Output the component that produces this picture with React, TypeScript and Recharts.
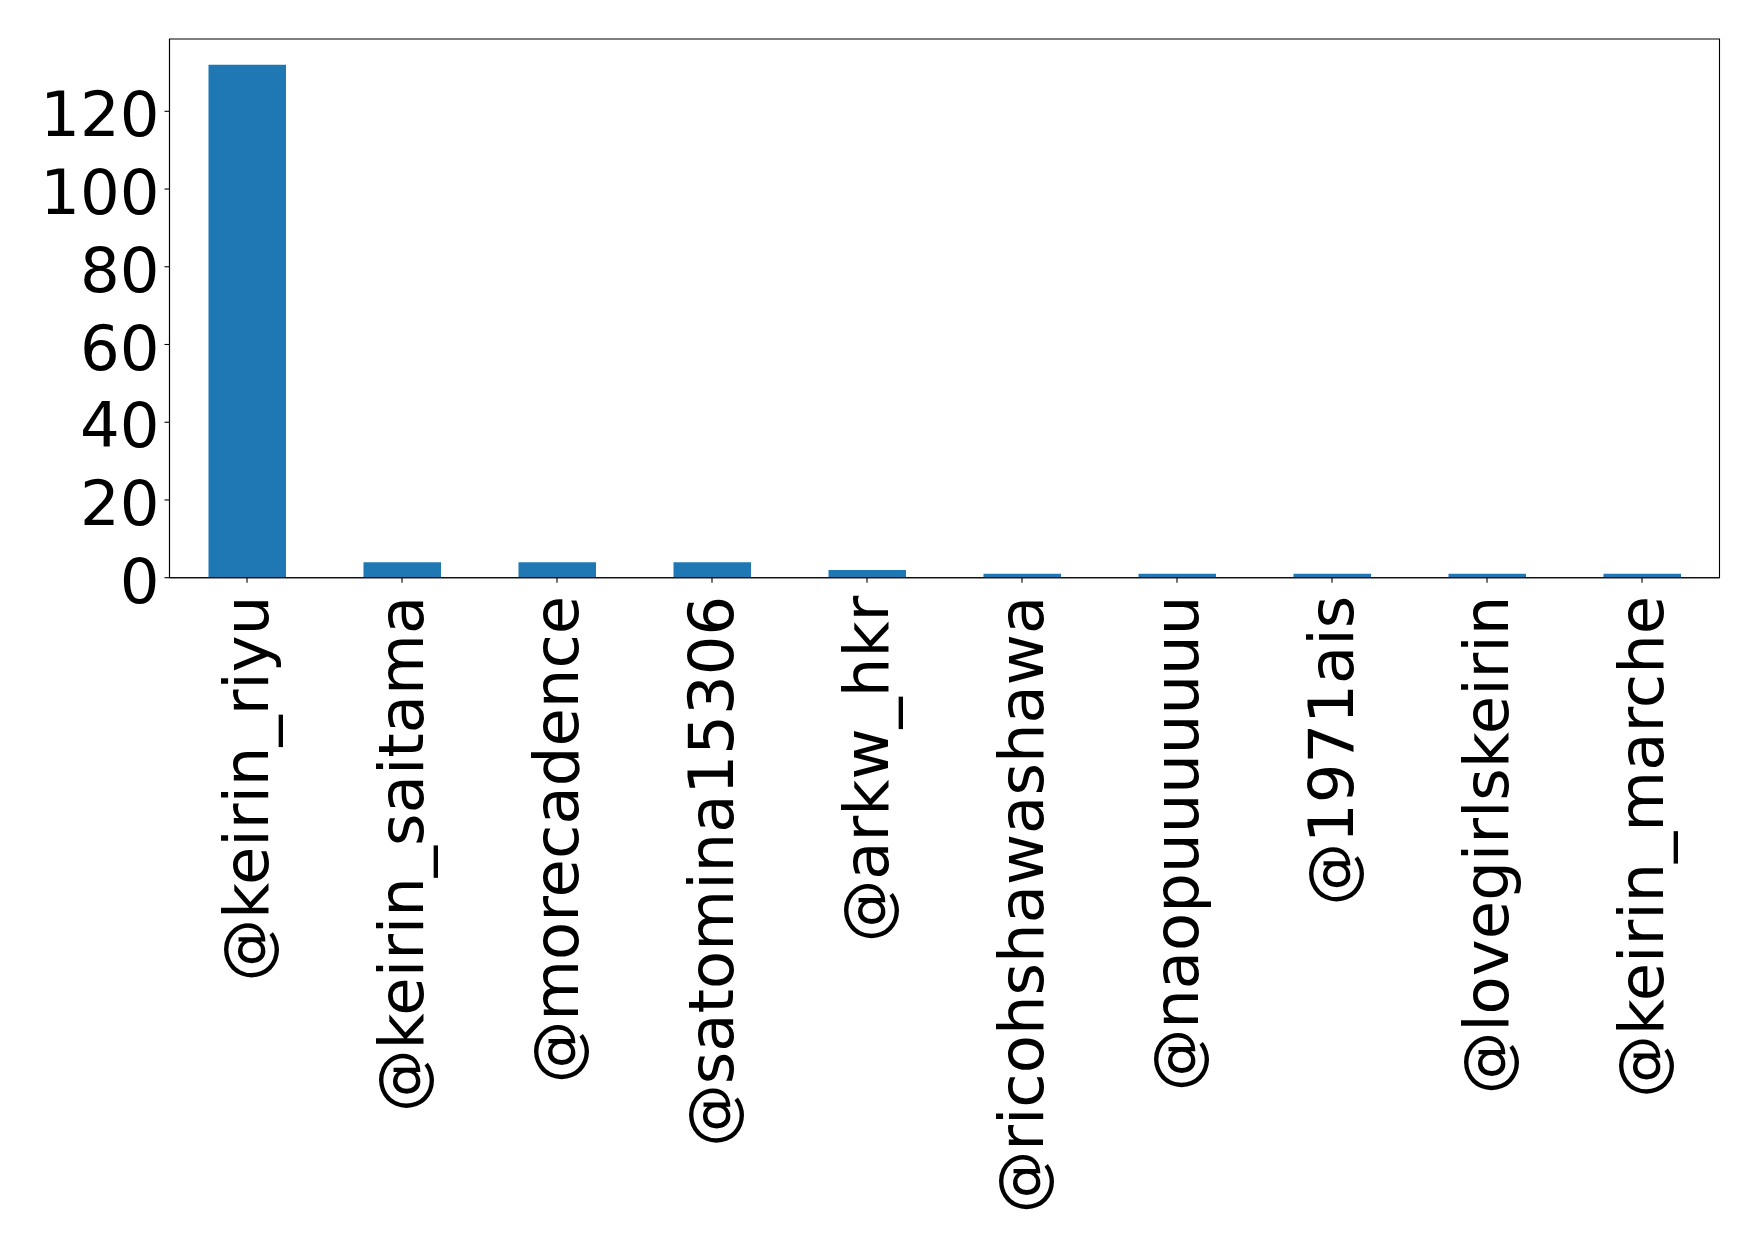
import React from "react";
import { BarChart, Bar, XAxis, YAxis, ReferenceArea } from "recharts";

const accounts = [
  "@keirin_riyu",
  "@keirin_saitama",
  "@morecadence",
  "@satomina15306",
  "@arkw_hkr",
  "@ricohshawashawa",
  "@naopuuuuuuu",
  "@1971ais",
  "@lovegirlskeirin",
  "@keirin_marche",
];

const counts = [132, 4, 4, 4, 2, 1, 1, 1, 1, 1];

const yTicks = [0, 20, 40, 60, 80, 100, 120];
const yMax = 138.6;

const data = accounts.map((name, i) => ({ name, count: counts[i] }));

const FONT = "DejaVu Sans";
const FONT_SIZE = 62.5;

const YTick = (props: any) => {
  const { x, y, payload } = props;
  return (
    <text x={x} y={y} dy={FONT_SIZE * 0.355 + 3} textAnchor="end" fontFamily={FONT} fontSize={FONT_SIZE} fill="#000">
      {payload.value}
    </text>
  );
};

const XTick = (props: any) => {
  const { x, y, payload } = props;
  return (
    <text
      transform={`translate(${x + 21},${y}) rotate(-90)`}
      textAnchor="end"
      fontFamily={FONT}
      fontSize={FONT_SIZE}
      fill="#000"
    >
      {payload.value}
    </text>
  );
};

const App = () => {
  return (
    <div style={{ position: "absolute", left: 0, top: 0, background: "#fff" }}>
      <BarChart width={1758} height={1245} data={data} margin={{ top: 39, right: 38.5, bottom: 0, left: 0 }}>
        <XAxis
          dataKey="name"
          interval={0}
          height={667.3}
          stroke="#000"
          strokeWidth={1.1}
          tickSize={5}
          tickMargin={13}
          tick={<XTick />}
        />
        <YAxis
          type="number"
          domain={[0, yMax]}
          ticks={yTicks}
          width={169.5}
          stroke="#000"
          strokeWidth={1.1}
          tickSize={5}
          tickMargin={5}
          tick={<YTick />}
          allowDataOverflow
        />
        <Bar dataKey="count" fill="#1f77b4" barSize={77.5} isAnimationActive={false} />
        {/* frame round the plot, like matplotlib's four spines */}
        <ReferenceArea
          x1={accounts[0]}
          x2={accounts[accounts.length - 1]}
          y1={0}
          y2={yMax}
          fill="none"
          stroke="#000"
          strokeWidth={1.1}
          fillOpacity={0}
          ifOverflow="visible"
        />
      </BarChart>
    </div>
  );
};

export default App;
